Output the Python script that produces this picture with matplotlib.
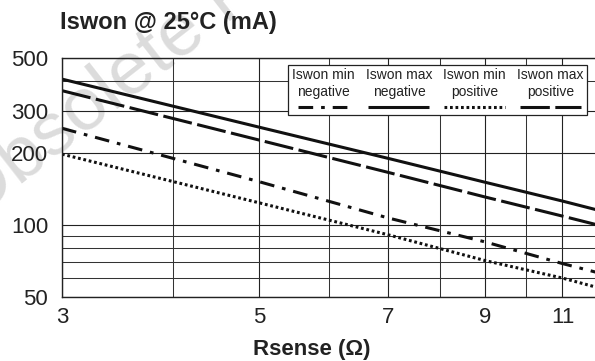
import numpy as np
import matplotlib
matplotlib.use("Agg")
import matplotlib.pyplot as plt
from matplotlib.lines import Line2D
from matplotlib.offsetbox import (AnchoredOffsetbox, VPacker, HPacker,
                                  TextArea, DrawingArea)

plt.rcParams['font.family'] = ['Liberation Sans', 'DejaVu Sans']

# data (Rsense in ohm, Iswon in mA)
rsense = [3, 5, 7, 9, 11, 12]
min_negative = [254, 152, 107, 85, 69, 63.5]
max_negative = [408, 257, 190, 151, 126, 116]
min_positive = [198, 124, 91, 71, 60, 55]
max_positive = [365, 227, 166, 131, 109, 100.5]

labels = ['Iswon min\nnegative', 'Iswon max\nnegative',
          'Iswon min\npositive', 'Iswon max\npositive']
series = [min_negative, max_negative, min_positive, max_positive]
styles = [
    dict(color='#111111', lw=2.2, dashes=[4.8, 2.6, 1.2, 2.6]),
    dict(color='#111111', lw=2.2, linestyle='-'),
    dict(color='#111111', lw=2.2, dashes=[0.9, 0.9]),
    dict(color='#111111', lw=2.2, dashes=[9.6, 1.8]),
]

x_major = [3, 5, 7, 9, 11]
x_minor = [4, 6, 8, 10]
y_major = [50, 100, 200, 300, 500]
y_minor = [60, 70, 80, 90, 400]

fig = plt.figure(figsize=(5.95, 3.61), dpi=100)
ax = fig.add_axes([62/595, 1-297/361, 534/595, 239/361])
ax.patch.set_visible(False)

for vals, st in zip(series, styles):
    ax.plot(rsense, vals, solid_capstyle='butt', dash_capstyle='butt', **st)

ax.set_xscale('log')
ax.set_yscale('log')
ax.set_xlim(3, 12)
ax.set_ylim(50, 500)

ax.set_xticks(x_major)
ax.set_xticklabels([str(v) for v in x_major])
ax.set_xticks(x_minor, minor=True)
ax.set_xticklabels([], minor=True)
ax.set_yticks(y_major)
ax.set_yticklabels([str(v) for v in y_major])
ax.set_yticks(y_minor, minor=True)
ax.set_yticklabels([], minor=True)
ax.tick_params(which='both', length=0, labelsize=16, colors='#222222')
ax.tick_params(axis='x', pad=7)
ax.tick_params(axis='y', pad=10)
ax.grid(True, which='major', color='#222222', lw=0.8)
ax.grid(True, which='minor', color='#333333', lw=0.75)
ax.set_axisbelow(True)
for s in ['left', 'bottom', 'top']:
    ax.spines[s].set_color('#222222')
    ax.spines[s].set_linewidth(1.0)
ax.spines['right'].set_visible(False)

# legend: text above each line sample
cols = []
for i, (lab, st) in enumerate(zip(labels, styles)):
    w = 37 if i == 0 else 44
    ta = TextArea(lab, textprops=dict(fontsize=10, color='#222222',
                                      multialignment='center'))
    da = DrawingArea(w, 6, 0, 0)
    da.add_artist(Line2D([0, w], [3, 3], solid_capstyle='butt',
                         dash_capstyle='butt', **st))
    cols.append(VPacker(children=[ta, da], align='center', pad=0, sep=3))
box = HPacker(children=cols, align='top', pad=0, sep=8)
leg = AnchoredOffsetbox(loc='upper right', child=box, pad=0.25, borderpad=0,
                        frameon=True, bbox_to_anchor=(587/595, 1-65/361),
                        bbox_transform=fig.transFigure)
leg.patch.set_edgecolor('#222222')
leg.patch.set_linewidth(0.9)
leg.patch.set_facecolor('white')
leg.patch.set_boxstyle('square', pad=0)
ax.add_artist(leg)

fig.text(60/595, 1-22/361, 'Iswon @ 25°C (mA)', fontsize=17,
         fontweight='bold', va='center', color='#222222')
fig.text(312/595, 1-350/361, 'Rsense (Ω)', fontsize=16, fontweight='bold',
         ha='center', va='center', color='#222222')

# faint watermark behind everything
fig.text(-27/595, 1-222/361, 'Obsolete Product(s)', fontsize=54,
         color='#dcdcdc', rotation=38, rotation_mode='anchor',
         ha='left', va='baseline', zorder=-1)

fig.savefig('out.png', dpi=100, facecolor='white')
